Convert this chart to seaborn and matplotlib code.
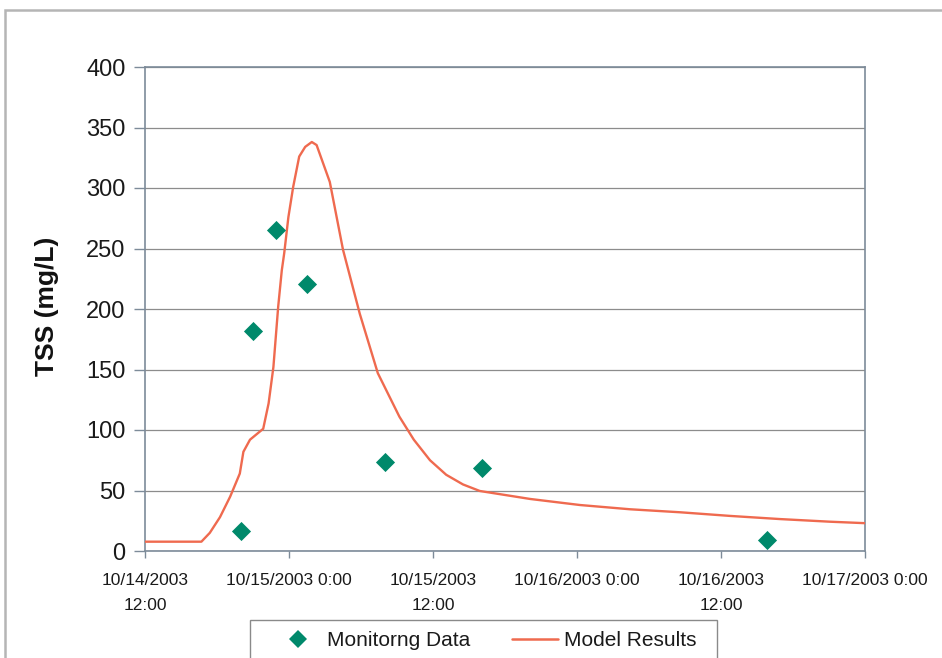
import matplotlib
matplotlib.use("Agg")
import matplotlib.pyplot as plt
from matplotlib.patches import Rectangle
from matplotlib.lines import Line2D
import seaborn as sns
import pandas as pd

# Hours elapsed since 10/14/2003 12:00
mon_hours = [8.0, 9.0, 10.9, 13.5, 20.0, 28.1, 51.8]
mon_tss = [16.5, 182, 265, 221, 73.5, 69, 9.5]

model_hours = [0, 4.7, 5.4, 6.25, 7.1, 7.9, 8.2, 8.75, 9.85, 10.3, 10.7, 11.1, 11.4,
               11.6, 11.95, 12.35, 12.85, 13.35, 13.9, 14.3, 15.4, 16.5, 17.9, 19.4,
               21.2, 22.4, 23.75, 25.1, 26.5, 27.9, 32.1, 36.25, 40.4, 44.6, 48.75,
               52.9, 57.1, 60]
model_tss = [7.7, 7.7, 15, 28, 45, 64, 82, 92, 101, 122, 152, 202, 232,
             246, 276, 301, 326, 334, 338, 335.5, 305, 249, 196, 147,
             111, 92, 75, 63, 55, 49.6, 43, 38, 34.5, 32, 29,
             26.4, 24.2, 23]

xtick_hours = [0, 12, 24, 36, 48, 60]
xtick_labels = ["10/14/2003\n12:00", "10/15/2003 0:00", "10/15/2003\n12:00",
                "10/16/2003 0:00", "10/16/2003\n12:00", "10/17/2003 0:00"]
ytick_vals = [0, 50, 100, 150, 200, 250, 300, 350, 400]

sns.set_theme(style="white")
plt.rcParams['font.family'] = ['Liberation Sans', 'DejaVu Sans']

W, H = 942, 658
fig = plt.figure(figsize=(W / 100, H / 100), dpi=100)
ax = fig.add_axes([145 / W, 1 - 551 / H, 720 / W, 484 / H])

diamond_c = "#00896b"
line_c = "#ef6a4f"

mon_df = pd.DataFrame({"hours": mon_hours, "tss": mon_tss})
model_df = pd.DataFrame({"hours": model_hours, "tss": model_tss})

sns.lineplot(data=model_df, x="hours", y="tss", ax=ax, color=line_c, lw=1.7,
             sort=True, zorder=3, legend=False)
sns.scatterplot(data=mon_df, x="hours", y="tss", ax=ax, marker="D", s=95,
                color=diamond_c, linewidth=0, zorder=4, legend=False)

ax.set_xlim(0, 60)
ax.set_ylim(0, 400)
ax.set_xticks(xtick_hours)
ax.set_xticklabels(xtick_labels, fontsize=12.5, color="#1a1a1a")
ax.set_yticks(ytick_vals)
ax.set_yticklabels([str(v) for v in ytick_vals], fontsize=17, color="#1a1a1a")
for t in ax.get_xticklabels():
    t.set_linespacing(1.85)
ax.set_xlabel("")
ax.set_ylabel("")

ax.grid(axis="y", color="#8c8c8c", lw=0.9)
ax.grid(axis="x", visible=False)
ax.set_axisbelow(True)
for side in ["left", "bottom", "top", "right"]:
    ax.spines[side].set_visible(True)
    ax.spines[side].set_color("#7d8b99")
    ax.spines[side].set_linewidth(1.2)
ax.tick_params(axis="x", direction="out", length=5, width=1, color="#7d8b99",
               pad=11, bottom=True)
ax.tick_params(axis="y", direction="out", length=8, width=1, color="#7d8b99",
               pad=6, left=True)

fig.text(47 / W, 1 - 306 / H, "TSS (mg/L)", rotation=90, ha="center", va="center",
         fontsize=19, fontweight="bold", color="#111111")

# outer chart-area border
fig.patches.append(Rectangle((5 / W, -0.1), 1.2, 1 - 10 / H + 0.1,
                             transform=fig.transFigure, fill=False,
                             edgecolor="#b5b5b5", lw=1.8, clip_on=False))
# legend frame
fig.patches.append(Rectangle((250 / W, -0.1), (717 - 250) / W, 1 - 620 / H + 0.1,
                             transform=fig.transFigure, fill=False,
                             edgecolor="#8a8a8a", lw=1.0, clip_on=False))

handles = [Line2D([], [], marker="D", ls="none", color=diamond_c, markersize=9,
                  markeredgewidth=0),
           Line2D([], [], color=line_c, lw=1.8)]
fig.legend(handles, ["Monitorng Data", "Model Results"], loc="center",
           bbox_to_anchor=(486 / W, 1 - 641 / H), ncol=2, frameon=False,
           fontsize=15, handlelength=2.2, handletextpad=0.3, columnspacing=2.0,
           labelcolor="#1a1a1a")

fig.savefig("out.png", dpi=100, facecolor="white")
